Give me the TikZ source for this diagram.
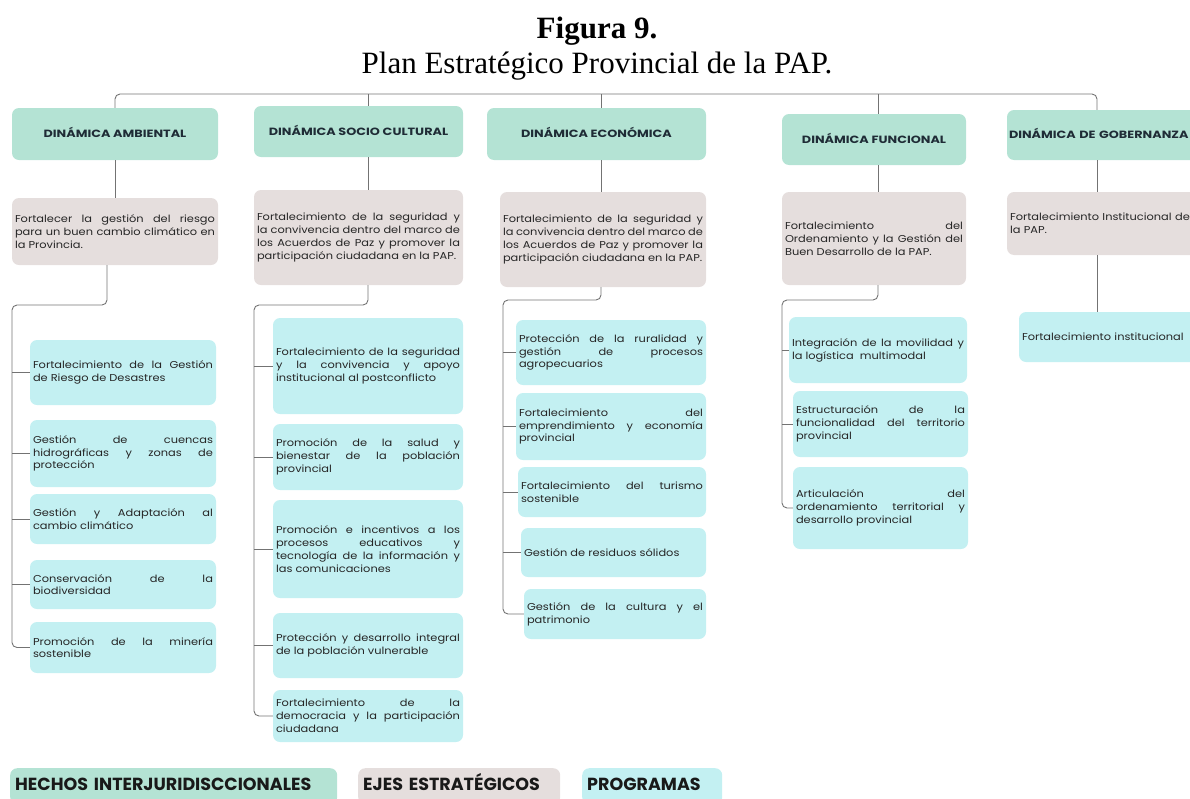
\documentclass[tikz,border=0pt]{standalone}
\usepackage{fontspec}
\setmainfont{Liberation Serif}
\newfontfamily\popfont[FakeStretch=1.14]{Poppins}
\newfontfamily\headfont[FakeStretch=1.22]{Poppins}
\newfontfamily\legfont{Poppins}
\definecolor{dingreen}{HTML}{B4E3D4}
\definecolor{ejegray}{HTML}{E5DEDD}
\definecolor{progcyan}{HTML}{C3F0F2}
\definecolor{linkgray}{HTML}{737373}
\definecolor{headink}{HTML}{1F2C36}
\hyphenpenalty=10000

\begin{document}
\begin{tikzpicture}[x=1pt, y=-1pt,
    din/.style={fill=dingreen, rounded corners=7pt, text=headink, inner sep=0pt,
        text height=8, text depth=1, font=\headfont\bfseries\fontsize{10.5}{12}\selectfont},
    eje/.style={fill=ejegray, rounded corners=7pt, text=black!85, align=justify,
        inner xsep=3pt, inner ysep=0pt, font=\popfont\fontsize{10}{12.8}\selectfont},
    prog/.style={eje, fill=progcyan},
    legend/.style={rounded corners=7pt, anchor=north west, align=left, text=black!90,
        inner xsep=5pt, text height=13, text depth=4,
        font=\legfont\bfseries\fontsize{17.5}{20}\selectfont},
    link/.style={draw=linkgray, line width=0.9pt, rounded corners=5pt}]
    \clip (0,0) rectangle (1190,798);

    % title
    \node[font=\bfseries\fontsize{31}{37}\selectfont, anchor=base] (fig) at (597,38) {Figura 9.};
    \node[font=\fontsize{31}{37}\selectfont, anchor=base] (tit) at (597,73) {Plan Estratégico Provincial de la PAP.};

    % dinamicas
    \node[din, minimum width=206, minimum height=52] (dA) at (115,134) {DINÁMICA AMBIENTAL};
    \node[din, minimum width=209, minimum height=51] (dS) at (358.5,131.5) {DINÁMICA SOCIO CULTURAL};
    \node[din, minimum width=219, minimum height=52] (dE) at (596.5,134) {DINÁMICA ECONÓMICA};
    \node[din, minimum width=184, minimum height=51] (dF) at (874,139.5) {DINÁMICA FUNCIONAL};
    \node[din, minimum height=50, text width=200, inner xsep=2pt, align=left] (dG) at (1109,135) {DINÁMICA DE GOBERNANZA};

    % ejes
    \node[eje, text width=200, minimum height=67] (eA) at (115,231.5)
        {Fortalecer la gestión del riesgo\linebreak para un buen cambio climático en\linebreak la Provincia.};
    \node[eje, text width=203, minimum height=95] (eS) at (358.5,237.5)
        {Fortalecimiento de la seguridad y\linebreak la convivencia dentro del marco de\linebreak los Acuerdos de Paz y promover la\linebreak participación ciudadana en la PAP.};
    \node[eje, text width=200, minimum height=95] (eE) at (603,239.5)
        {Fortalecimiento de la seguridad y\linebreak la convivencia dentro del marco de\linebreak los Acuerdos de Paz y promover la\linebreak participación ciudadana en la PAP.};
    \node[eje, text width=178, minimum height=93] (eF) at (874,238.5)
        {Fortalecimiento del\linebreak Ordenamiento y la Gestión del\linebreak Buen Desarrollo de la PAP.};
    \node[eje, text width=197, minimum height=63, align=left] (eG) at (1108.5,223.5)
        {Fortalecimiento Institucional de\\la PAP.};

    % programas ambiental
    \node[prog, text width=180, minimum height=65] (pA1) at (123,372.5)
        {Fortalecimiento de la Gestión\linebreak de Riesgo de Desastres};
    \node[prog, text width=180, minimum height=67] (pA2) at (123,453.5)
        {Gestión de cuencas\linebreak hidrográficas y zonas de\linebreak protección};
    \node[prog, text width=180, minimum height=50] (pA3) at (123,519)
        {Gestión y Adaptación al\linebreak cambio climático};
    \node[prog, text width=180, minimum height=49] (pA4) at (123,584.5)
        {Conservación de la\linebreak biodiversidad};
    \node[prog, text width=180, minimum height=51] (pA5) at (123,647.5)
        {Promoción de la minería\linebreak sostenible};

    % programas socio cultural
    \node[prog, text width=184, minimum height=96] (pS1) at (368,366)
        {Fortalecimiento de la seguridad\linebreak y la convivencia y apoyo\linebreak institucional al postconflicto};
    \node[prog, text width=184, minimum height=66] (pS2) at (368,457)
        {Promoción de la salud y\linebreak bienestar de la población\linebreak provincial};
    \node[prog, text width=184, minimum height=98] (pS3) at (368,549)
        {Promoción e incentivos a los\linebreak procesos educativos y\linebreak tecnología de la información y\linebreak las comunicaciones};
    \node[prog, text width=184, minimum height=65] (pS4) at (368,645.5)
        {Protección y desarrollo integral\linebreak de la población vulnerable};
    \node[prog, text width=184, minimum height=52] (pS5) at (368,716)
        {Fortalecimiento de la\linebreak democracia y la participación\linebreak ciudadana};

    % programas economica
    \node[prog, text width=184, minimum height=65] (pE1) at (611,352.5)
        {Protección de la ruralidad y\linebreak gestión de procesos\linebreak agropecuarios};
    \node[prog, text width=184, minimum height=67] (pE2) at (611,426.5)
        {Fortalecimiento del\linebreak emprendimiento y economía\linebreak provincial};
    \node[prog, text width=182, minimum height=50] (pE3) at (612,492)
        {Fortalecimiento del turismo\linebreak sostenible};
    \node[prog, text width=179, minimum height=49] (pE4) at (613.5,552.5)
        {Gestión de residuos sólidos};
    \node[prog, text width=176, minimum height=50] (pE5) at (615,614)
        {Gestión de la cultura y el\linebreak patrimonio};

    % programas funcional
    \node[prog, text width=172, minimum height=66] (pF1) at (878,350)
        {Integración de la movilidad y\linebreak la logística\ \ multimodal};
    \node[prog, text width=169, minimum height=66] (pF2) at (880.5,424)
        {Estructuración de la\linebreak funcionalidad del territorio\linebreak provincial};
    \node[prog, text width=169, minimum height=82] (pF3) at (880.5,508)
        {Articulación del\linebreak ordenamiento territorial y\linebreak desarrollo provincial};

    % programas gobernanza
    \node[prog, text width=185, minimum height=50, align=left] (pG1) at (1114.5,337)
        {Fortalecimiento institucional};

    % connectors
    \coordinate (busA) at (115,94);
    \coordinate (busS) at (368,94);
    \coordinate (busE) at (601,94);
    \coordinate (busF) at (878,94);
    \coordinate (busG) at (1097,94);
    \draw[link] (dA.north) |- (busG) -- (busG |- dG.north);
    \foreach \n in {S,E,F}
        \draw[link] (bus\n) -- (bus\n |- d\n.north);
    \foreach \n in {A,S,E,F,G}
        \draw[link] (bus\n |- d\n.south) -- (bus\n |- e\n.north);

    \coordinate (spA) at (12,305);
    \coordinate (spS) at (254,305);
    \coordinate (spE) at (503,300);
    \coordinate (spF) at (782,300);
    \draw[link] ([xshift=-8pt]eA.south) |- (spA) |- (pA5.west);
    \draw[link] (busS |- eS.south) |- (spS) |- (pS5.west);
    \draw[link] (busE |- eE.south) |- (spE) |- (pE5.west);
    \draw[link] (busF |- eF.south) |- (spF) |- (pF3.west);
    \draw[link] (busG |- eG.south) -- (busG |- pG1.north);
    \foreach \p in {pA1,pA2,pA3,pA4}
        \draw[link] (spA |- \p.west) -- (\p.west);
    \foreach \p in {pS1,pS2,pS3,pS4}
        \draw[link] (spS |- \p.west) -- (\p.west);
    \foreach \p in {pE1,pE2,pE3,pE4}
        \draw[link] (spE |- \p.west) -- (\p.west);
    \foreach \p in {pF1,pF2}
        \draw[link] (spF |- \p.west) -- (\p.west);

    % legend
    \node[legend, fill=dingreen, text width=317, minimum height=36] (lH) at (10,768) {HECHOS INTERJURIDISCCIONALES};
    \node[legend, fill=ejegray, text width=192, minimum height=36] (lE) at (358,768) {EJES ESTRATÉGICOS};
    \node[legend, fill=progcyan, text width=130, minimum height=36] (lP) at (582,768) {PROGRAMAS};
\end{tikzpicture}
\end{document}
